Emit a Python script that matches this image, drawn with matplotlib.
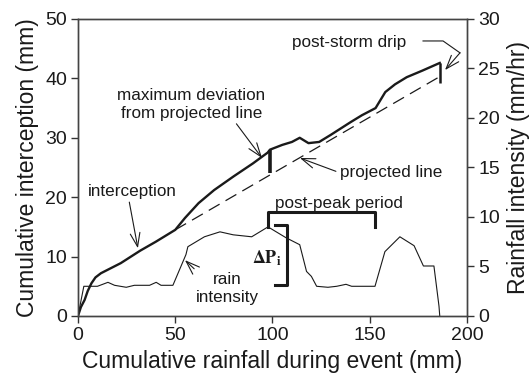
import matplotlib
matplotlib.use('Agg')
import matplotlib.pyplot as plt

plt.rcParams['font.family'] = ['Liberation Sans', 'DejaVu Sans']
plt.rcParams['mathtext.fontset'] = 'stix'

# cumulative interception curve (left axis, mm)
lluvia = [0, 1.5, 3.4, 5, 6.9, 9, 11.8, 16, 22, 32, 40, 50, 55, 62, 70, 80, 90, 97.5,
          98.7, 105, 110, 114, 118.5, 124, 130, 140, 146, 153, 158, 163, 169, 177, 186]
intercep = [0, 1.5, 2.7, 4.2, 5.5, 6.5, 7.2, 7.9, 8.9, 11.0, 12.5, 14.5, 16.5, 19.0, 21.2,
            23.5, 25.7, 27.5, 28.0, 28.8, 29.3, 30.0, 29.1, 29.3, 30.5, 32.6, 33.8, 35.0,
            37.7, 39.0, 40.2, 41.3, 42.6]

# projected line
proj_x = [50, 186]
proj_y = [14.5, 40.3]

# rain intensity (right axis, mm/hr)
lluvia_int = [0, 3, 10, 15.4, 18.8, 24.8, 29, 36.8, 40.2, 42.7, 48.8, 55.5, 56.5, 65, 73,
              79.8, 89.3, 97.7, 107, 114, 117.5, 120, 122.7, 128.5, 133, 137.8, 140.7,
              152.7, 157.8, 165.5, 172.8, 177.6, 183, 185.6, 186]
intensidad = [0, 3.0, 3.0, 3.4, 3.1, 2.9, 3.1, 3.1, 3.4, 3.1, 3.1, 6.2, 7.0, 8.0, 8.5,
              8.2, 8.0, 9.0, 7.9, 7.2, 4.5, 4.0, 3.0, 2.9, 3.0, 3.2, 3.0,
              3.0, 6.5, 8.0, 7.1, 5.05, 5.05, 1.0, 0]

cor = '#1a1a1a'

fig = plt.figure(figsize=(5.32, 3.82), dpi=100)
ax = fig.add_axes([0.1466, 0.1728, 0.7312, 0.7775])
ax2 = ax.twinx()

ax.plot(lluvia, intercep, color=cor, lw=1.7, solid_joinstyle='round')
ax.plot(proj_x, proj_y, color=cor, lw=0.9, dashes=(10, 5.5))
ax2.plot(lluvia_int, intensidad, color=cor, lw=0.8)

# bars of max deviation and post-storm drip
ax.plot([98.7, 98.7], [24.1, 27.9], color=cor, lw=2.6, solid_capstyle='butt')
ax.plot([186, 186], [39.2, 42.6], color=cor, lw=1.8, solid_capstyle='butt')

# post-peak period bracket
ax.plot([97.7, 97.7, 152.7, 152.7], [15.0, 17.5, 17.5, 15.0], color=cor, lw=2.2)
ax.text(101.3, 19.0, 'post-peak period', fontsize=12.3, va='center', ha='left', color=cor)

# delta P bracket
ax.plot([101.3, 107.6, 107.6, 101.3], [15.3, 15.3, 5.2, 5.2], color=cor, lw=2.2)
ax.text(104.5, 9.8, r'$\mathbf{\Delta P_i}$', fontsize=13, va='center', ha='right', color=cor)

flecha = dict(arrowstyle='->, head_length=0.7, head_width=0.25', color=cor, lw=0.8,
              mutation_scale=14)

ax.annotate('maximum deviation\nfrom projected line', xy=(94.6, 26.6), xytext=(58.3, 35.6),
            fontsize=12.3, ha='center', va='center', color=cor, linespacing=1.25,
            arrowprops=dict(flecha, shrinkA=0, shrinkB=0, relpos=(0.79, 0.0)))
ax.annotate('projected line', xy=(114.1, 26.6), xytext=(134.7, 24.1),
            fontsize=12.3, ha='left', va='center', color=cor,
            arrowprops=dict(flecha, shrinkA=1, shrinkB=0, relpos=(0.0, 0.5)))
ax.annotate('interception', xy=(30.8, 11.4), xytext=(5.1, 20.9),
            fontsize=12.3, ha='left', va='center', color=cor,
            arrowprops=dict(flecha, shrinkA=0, shrinkB=0, relpos=(0.46, 0.0)))
ax.annotate('rain\nintensity', xy=(55, 9.4), xytext=(76.6, 4.7),
            fontsize=12.3, ha='center', va='center', color=cor, linespacing=1.25,
            arrowprops=dict(flecha, shrinkA=0, shrinkB=0, relpos=(0.15, 0.78)))

# post-storm drip with its bent leader
ax.text(110, 46.0, 'post-storm drip', fontsize=12.3, va='center', ha='left', color=cor)
ax.plot([177.4, 187.7, 196.4], [46.3, 46.3, 44.3], color=cor, lw=0.8, clip_on=False)
ax.annotate('', xy=(188.7, 41.4), xytext=(196.4, 44.3),
            arrowprops=dict(flecha, shrinkA=0, shrinkB=0), annotation_clip=False)

ax.set_xlim(0, 200)
ax.set_ylim(0, 50)
ax2.set_ylim(0, 30)
ax.set_xticks([0, 50, 100, 150, 200])
ax.set_yticks([0, 10, 20, 30, 40, 50])
ax2.set_yticks([0, 5, 10, 15, 20, 25, 30])

ax.set_xlabel('Cumulative rainfall during event (mm)', fontsize=16.5, color=cor, labelpad=4)
ax.set_ylabel('Cumulative interception (mm)', fontsize=16.5, color=cor, labelpad=4)
ax2.set_ylabel('Rainfall intensity (mm/hr)', fontsize=16.5, color=cor, labelpad=5)

for a in (ax, ax2):
    a.tick_params(labelsize=14, length=5, width=1, colors='#333333', labelcolor=cor, pad=3)
    for s in a.spines.values():
        s.set_color('#444444')
        s.set_linewidth(1)

fig.savefig('out.png', dpi=100)
